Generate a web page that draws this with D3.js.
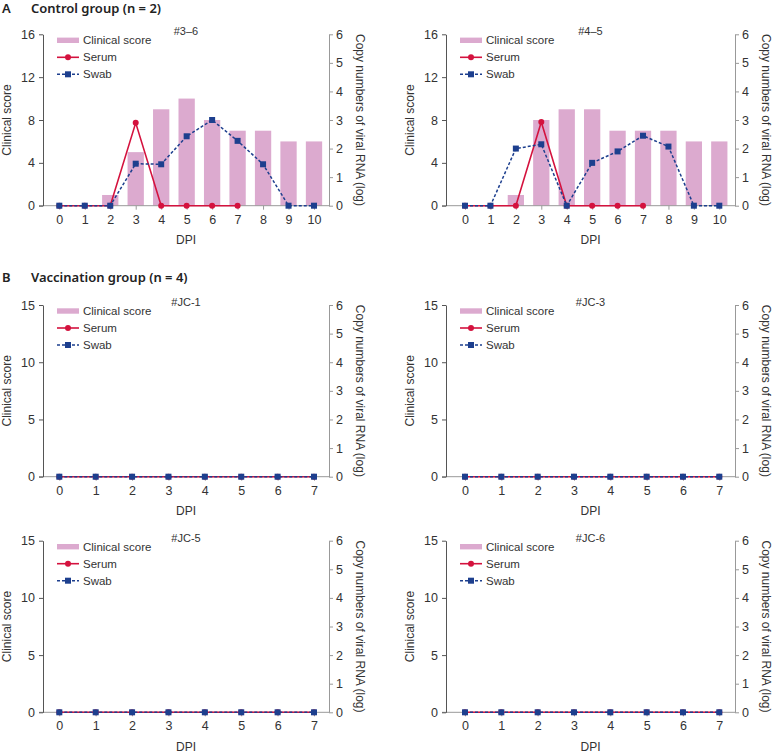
<!DOCTYPE html>
<html>
<head>
<meta charset="utf-8">
<script src="https://cdn.jsdelivr.net/npm/d3@7"></script>
<style>
  body { margin: 0; background: #fff; }
  text { font-family: "Liberation Sans", Arial, sans-serif; fill: #333; }
  .section { font-family: "Noto Sans", sans-serif; font-weight: 600; font-size: 13px; fill: #222; }
</style>
</head>
<body>
<div id="chart"></div>
<script>
// data
var controlDays = [0,1,2,3,4,5,6,7,8,9,10];
var serumDays = [0,1,2,3,4,5,6,7];
var vaccDays = [0,1,2,3,4,5,6,7];

var score36 = [0,0,1,5,9,10,8,7,7,6,6];
var serum36 = [0,0,0,2.9,0,0,0,0];
var swab36 = [0,0,0,1.47,1.45,2.43,3.0,2.27,1.45,0,0];

var score45 = [0,0,1,8,9,9,7,7,7,6,6];
var serum45 = [0,0,0,2.93,0,0,0,0];
var swab45 = [0,0,2.0,2.15,0,1.5,1.9,2.45,2.07,0,0];

var vaccScore = [0,0,0,0,0,0,0,0];
var vaccSerum = [0,0,0,0,0,0,0,0];
var vaccSwab = [0,0,0,0,0,0,0,0];

var scoreTicks16 = [0,4,8,12,16];
var scoreTicks15 = [0,5,10,15];
var rnaTicks = [0,1,2,3,4,5,6];

var width = 772, height = 753;

var cols = [
  {axisL: 43, x0: 59.3, x1: 314, axisR: 329},
  {axisL: 446, x0: 465, x1: 719.3, axisR: 735}
];
var rows = [
  {top: 34.3, bottom: 205.7},
  {top: 305, bottom: 476.7},
  {top: 540.7, bottom: 712.3}
];

var panels = [
  {name: "#3\u20136", row: 0, col: 0, days: controlDays, sDays: serumDays, score: score36, serum: serum36, swab: swab36, yMax: 16, yTicks: scoreTicks16},
  {name: "#4\u20135", row: 0, col: 1, days: controlDays, sDays: serumDays, score: score45, serum: serum45, swab: swab45, yMax: 16, yTicks: scoreTicks16},
  {name: "#JC-1", row: 1, col: 0, days: vaccDays, sDays: vaccDays, score: vaccScore, serum: vaccSerum, swab: vaccSwab, yMax: 15, yTicks: scoreTicks15},
  {name: "#JC-3", row: 1, col: 1, days: vaccDays, sDays: vaccDays, score: vaccScore, serum: vaccSerum, swab: vaccSwab, yMax: 15, yTicks: scoreTicks15},
  {name: "#JC-5", row: 2, col: 0, days: vaccDays, sDays: vaccDays, score: vaccScore, serum: vaccSerum, swab: vaccSwab, yMax: 15, yTicks: scoreTicks15},
  {name: "#JC-6", row: 2, col: 1, days: vaccDays, sDays: vaccDays, score: vaccScore, serum: vaccSerum, swab: vaccSwab, yMax: 15, yTicks: scoreTicks15}
];

var barColor = "#dcaacf",
  serumColor = "#d4123e",
  swabColor = "#1d3f8e";

var svg = d3.select('#chart')
  .append('svg')
    .attr('width', width)
    .attr('height', height);

// section headers
var sections = [{letter: "A", label: "Control group (n = 2)", y: 13}, {letter: "B", label: "Vaccination group (n = 4)", y: 282}];
sections.forEach(function(s) {
  svg.append("text").attr("class", "section").attr("x", 2).attr("y", s.y).text(s.letter);
  svg.append("text").attr("class", "section").attr("x", 31).attr("y", s.y).text(s.label);
});

panels.forEach(function(p) {
  var c = cols[p.col], r = rows[p.row];
  var g = svg.append("g");

  var x = d3.scalePoint().domain(p.days).range([c.x0, c.x1]);
  var y = d3.scaleLinear().domain([0, p.yMax]).range([r.bottom, r.top]);
  var y2 = d3.scaleLinear().domain([0, 6]).range([r.bottom, r.top]);
  var bw = x.step() * 0.64;

  // bars
  g.selectAll(".bar")
    .data(p.score.map(function(v, i) { return {d: p.days[i], v: v}; }))
    .enter().append("rect")
      .attr("x", function(d) { return x(d.d) - bw / 2; })
      .attr("y", function(d) { return y(d.v); })
      .attr("width", bw)
      .attr("height", function(d) { return y(0) - y(d.v); })
      .attr("fill", barColor);

  // x axis
  g.append("line")
    .attr("x1", c.axisL - 4).attr("x2", c.axisR)
    .attr("y1", r.bottom).attr("y2", r.bottom)
    .attr("stroke", "#999").attr("stroke-width", 1);
  var xAxis = g.append("g")
    .attr("transform", "translate(0," + r.bottom + ")")
    .call(d3.axisBottom(x).tickSize(4).tickPadding(5));
  xAxis.select(".domain").remove();
  xAxis.selectAll("line").attr("stroke", "#999");
  xAxis.selectAll("text").style("font-size", "12.5px").attr("fill", "#333");

  // left axis
  var yAxis = g.append("g")
    .attr("transform", "translate(" + c.axisL + ",0)")
    .call(d3.axisLeft(y).tickValues(p.yTicks).tickSize(4).tickPadding(4).tickSizeOuter(0));
  yAxis.selectAll("line, .domain").attr("stroke", "#555");
  yAxis.selectAll("text").style("font-size", "12.5px").attr("fill", "#333");

  // right axis
  var y2Axis = g.append("g")
    .attr("transform", "translate(" + c.axisR + ",0)")
    .call(d3.axisRight(y2).tickValues(rnaTicks).tickFormat(d3.format("d")).tickSize(4).tickPadding(3).tickSizeOuter(0));
  y2Axis.selectAll("line, .domain").attr("stroke", "#999");
  y2Axis.selectAll("text").style("font-size", "12.5px").attr("fill", "#333");

  // axis titles
  var midY = (r.top + r.bottom) / 2;
  g.append("text")
    .attr("transform", "translate(" + (c.axisL - 32) + "," + midY + ") rotate(-90)")
    .attr("text-anchor", "middle")
    .style("font-size", "12px")
    .text("Clinical score");
  g.append("text")
    .attr("transform", "translate(" + (c.axisR + 27) + "," + midY + ") rotate(90)")
    .attr("text-anchor", "middle")
    .style("font-size", "12px")
    .text("Copy numbers of viral RNA (log)");
  g.append("text")
    .attr("x", (c.axisL + c.axisR) / 2)
    .attr("y", r.bottom + 38.5)
    .attr("text-anchor", "middle")
    .style("font-size", "12px")
    .text("DPI");

  // panel title
  g.append("text")
    .attr("x", (c.axisL + c.axisR) / 2)
    .attr("y", r.top + 1)
    .attr("text-anchor", "middle")
    .style("font-size", "11px")
    .text(p.name);

  // serum line
  var serumPts = p.serum.map(function(v, i) { return {d: p.sDays[i], v: v}; });
  g.append("path")
    .datum(serumPts)
    .attr("fill", "none")
    .attr("stroke", serumColor)
    .attr("stroke-width", 1.6)
    .attr("d", d3.line().x(function(d) { return x(d.d); }).y(function(d) { return y2(d.v); }));
  g.selectAll(".serumDot")
    .data(serumPts)
    .enter().append("circle")
      .attr("cx", function(d) { return x(d.d); })
      .attr("cy", function(d) { return y2(d.v); })
      .attr("r", 3)
      .attr("fill", serumColor);

  // swab line
  var swabPts = p.swab.map(function(v, i) { return {d: p.days[i], v: v}; });
  g.append("path")
    .datum(swabPts)
    .attr("fill", "none")
    .attr("stroke", swabColor)
    .attr("stroke-width", 1.5)
    .attr("stroke-dasharray", "3,2")
    .attr("d", d3.line().x(function(d) { return x(d.d); }).y(function(d) { return y2(d.v); }));
  g.selectAll(".swabDot")
    .data(swabPts)
    .enter().append("rect")
      .attr("x", function(d) { return x(d.d) - 3; })
      .attr("y", function(d) { return y2(d.v) - 3; })
      .attr("width", 6)
      .attr("height", 6)
      .attr("fill", swabColor);

  // legend
  var lx = c.axisL + 14;
  var leg = g.append("g").attr("transform", "translate(" + lx + "," + r.top + ")");
  leg.append("rect").attr("x", 0).attr("y", 3.3).attr("width", 22).attr("height", 5.4).attr("fill", barColor);
  leg.append("text").attr("x", 26).attr("y", 10).style("font-size", "11.5px").text("Clinical score");

  leg.append("line").attr("x1", 0).attr("x2", 22).attr("y1", 23).attr("y2", 23)
    .attr("stroke", serumColor).attr("stroke-width", 1.6);
  leg.append("circle").attr("cx", 11).attr("cy", 23).attr("r", 3).attr("fill", serumColor);
  leg.append("text").attr("x", 26).attr("y", 27).style("font-size", "11.5px").text("Serum");

  leg.append("line").attr("x1", 0).attr("x2", 22).attr("y1", 40).attr("y2", 40)
    .attr("stroke", swabColor).attr("stroke-width", 1.5).attr("stroke-dasharray", "3,2");
  leg.append("rect").attr("x", 8).attr("y", 37).attr("width", 6).attr("height", 6).attr("fill", swabColor);
  leg.append("text").attr("x", 26).attr("y", 44).style("font-size", "11.5px").text("Swab");
});
</script>
</body>
</html>
